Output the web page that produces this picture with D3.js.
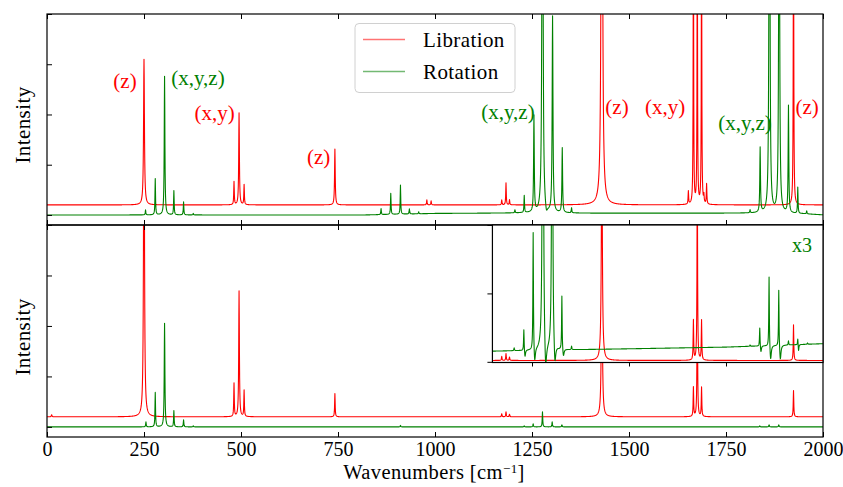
<!DOCTYPE html>
<html><head><meta charset="utf-8">
<script src="https://cdn.jsdelivr.net/npm/d3@7"></script>
<style>
body{margin:0;background:#fff;}
svg text{font-family:"Liberation Serif","Times New Roman",serif;}
</style></head><body>
<svg id="c" width="843" height="487"></svg>
<script>
// ---------------- DATA ----------------
const xTicks = [0, 250, 500, 750, 1000, 1250, 1500, 1750, 2000];
const yTicks = [0, 1, 2, 3, 4];
const insetXTicks = [1250, 1500, 1750];
const insetYTicks = [0, 1, 2];
const seriesNames = ["Libration", "Rotation"];

// Top panel – Libration: line positions (cm^-1), intensities, half widths (cm^-1)
const topLibPos = [250, 482, 495, 508, 742, 979, 990, 1172, 1183, 1192, 1430, 1653, 1666, 1676, 1687, 1693, 1700, 1924];
const topLibAmp = [2.9, 0.46, 1.83, 0.4, 1.11, 0.1, 0.08, 0.1, 0.44, 0.1, 16, 0.26, 6, 6, 6, 0.15, 0.4, 6];
const topLibWid = [1.3, 0.8, 1, 0.8, 1, 0.8, 0.8, 0.8, 0.8, 0.8, 1.5, 0.8, 0.7, 0.7, 0.7, 0.8, 0.8, 0.8];

// Top panel – Rotation
const topRotPos = [254, 279, 303, 327, 352, 377, 861, 886, 911, 934, 958, 1206, 1230, 1255, 1277, 1287, 1303, 1328, 1352, 1812, 1838, 1862, 1887, 1911, 1935, 1958];
const topRotAmp = [0.1, 0.72, 2.76, 0.48, 0.26, 0.03, 0.12, 0.42, 0.58, 0.1, 0.04, 0.06, 0.34, 1.91, 14, -0.15, 3.9, 1.29, 0.1, 0.06, 1.29, 12, 10, 2.13, 0.52, 0.06];
const topRotWid = [0.8, 0.8, 1, 0.8, 0.8, 0.8, 0.8, 0.8, 0.8, 0.8, 0.8, 0.8, 0.8, 1, 1.2, 3, 1.2, 1, 0.8, 0.8, 1, 1.2, 1.2, 1, 0.8, 0.8];
const topRotBaseX = [0, 820, 1000, 1250, 1400, 1800, 1950, 2000];
const topRotBaseY = [0, 0, 0.03, 0.04, 0.035, 0.035, 0.02, 0];

// Bottom panel – Libration (also shown in the inset)
const botLibPos = [12, 250, 482, 495, 508, 742, 1172, 1183, 1192, 1430, 1666, 1676, 1687, 1924];
const botLibAmp = [0.04, 8, 0.66, 2.49, 0.52, 0.46, 0.06, 0.1, 0.05, 3.3, 0.58, 3.0, 0.58, 0.52];
const botLibWid = [1, 1.22, 0.8, 1, 0.8, 0.8, 0.8, 0.8, 0.8, 1.5, 0.8, 0.8, 0.8, 0.8];

// Bottom panel – Rotation
const botRotPos = [255, 279, 303, 327, 352, 377, 911, 1230, 1253, 1277, 1302, 1327, 1837, 1861, 1886];
const botRotAmp = [0.1, 0.68, 2.05, 0.32, 0.14, 0.02, 0.03, 0.02, 0.06, 0.3, 0.1, 0.04, 0.02, 0.04, 0.04];
const botRotWid = [0.8, 0.8, 1, 0.8, 0.8, 0.8, 0.8, 0.8, 0.8, 0.8, 0.8, 0.8, 0.8, 0.8, 0.8];

// Inset – Rotation x3
const insRotPos = [1204, 1229, 1232, 1253, 1257, 1278, 1285, 1302, 1309, 1327, 1331, 1352, 1812, 1837, 1840, 1861, 1865, 1886, 1890, 1911, 1935, 1937, 1960];
const insRotAmp = [0.04, 0.32, -0.11, 1.75, -0.23, 14, -0.47, 10, -0.35, 0.8, -0.12, 0.05, 0.02, 0.28, -0.1, 1.05, -0.23, 0.85, -0.23, 0.06, 0.1, -0.1, 0.02];
const insRotWid = [0.8, 0.8, 1.5, 0.8, 2, 1, 3, 1, 2.5, 0.8, 2, 0.8, 0.8, 0.8, 1.5, 0.8, 2, 0.8, 2, 0.8, 0.8, 1, 0.8];
const insRotBaseX = [1148, 1500, 1750, 2000];
const insRotBaseY = [0.155, 0.19, 0.215, 0.265];

// vertical offsets of the Libration traces
const libOffsetMain = 0.2;
const libOffsetInset = 0.02;

// annotations: text, wavenumber, intensity, series index
const topNotes = [
  ["(z)", 201, 2.52, 0], ["(x,y,z)", 389, 2.59, 1], ["(x,y)", 432, 1.89, 0],
  ["(z)", 700, 1.02, 0], ["(x,y,z)", 1188, 1.91, 1], ["(z)", 1469, 2.01, 0],
  ["(x,y)", 1593, 2.01, 0], ["(x,y,z)", 1799, 1.69, 1], ["(z)", 1959, 2.01, 0]
];
const insetNote = ["x3", 1946, 1.6, 1];

// ---------------- DRAWING ----------------
const colors = ["#ff0000", "#008000"];
const FS = 21;
const svg = d3.select("#c");

const X = d3.scaleLinear().domain([0, 2000]).range([47, 823]);
const yTop = d3.scaleLinear().domain([-0.2, 4]).range([225, 14]);
const yBot = d3.scaleLinear().domain([-0.2, 4]).range([437, 225]);
const xIn = d3.scaleLinear().domain([1148, 2000]).range([X(1148), 823]);
const yIn = d3.scaleLinear().domain([-0.01, 2]).range([362.5, 225]);

function spectrum(pos, amp, wid, offset, x0, x1, bx, by) {
  const base = bx ? d3.scaleLinear().domain(bx).range(by) : () => 0;
  let xs = d3.range(x0, x1 + 0.001, 0.5).concat(pos.filter(p => p >= x0 && p <= x1));
  xs = Array.from(new Set(xs)).sort((a, b) => a - b);
  return xs.map(x => {
    let y = offset + base(x);
    for (let i = 0; i < pos.length; i++) {
      const g = wid[i], d = x - pos[i];
      y += amp[i] * g * g / (d * d + g * g);
    }
    return [x, y];
  });
}

function panel(id, x0, x1, y0, y1) {
  svg.append("clipPath").attr("id", id).append("rect")
    .attr("x", x0).attr("y", y0).attr("width", x1 - x0).attr("height", y1 - y0);
  return svg.append("g").attr("clip-path", `url(#${id})`);
}

function drawLine(g, data, xs, ys, color) {
  g.append("path").datum(data)
    .attr("fill", "none").attr("stroke", color).attr("stroke-width", 1.1)
    .attr("stroke-linejoin", "round")
    .attr("d", d3.line().x(d => xs(d[0])).y(d => ys(d[1])));
}

// top panel
const gTop = panel("clipTop", 47, 823, 14, 225);
drawLine(gTop, spectrum(topLibPos, topLibAmp, topLibWid, libOffsetMain, 0, 2000), X, yTop, colors[0]);
drawLine(gTop, spectrum(topRotPos, topRotAmp, topRotWid, 0, 0, 2000, topRotBaseX, topRotBaseY), X, yTop, colors[1]);

// bottom panel
const gBot = panel("clipBot", 47, 823, 225, 437);
drawLine(gBot, spectrum(botLibPos, botLibAmp, botLibWid, libOffsetMain, 0, 2000), X, yBot, colors[0]);
drawLine(gBot, spectrum(botRotPos, botRotAmp, botRotWid, 0, 0, 2000), X, yBot, colors[1]);

function axes(ys, yPix0, yPix1, withLabels) {
  const bottom = svg.append("g").attr("transform", `translate(0,${yPix1})`)
    .call(d3.axisBottom(X).tickValues(xTicks).tickSizeInner(-5).tickSizeOuter(0).tickPadding(5)
      .tickFormat(withLabels ? d3.format("d") : ""));
  const top = svg.append("g").attr("transform", `translate(0,${yPix0})`)
    .call(d3.axisTop(X).tickValues(xTicks).tickSizeInner(-5).tickSizeOuter(0).tickFormat(""));
  const left = svg.append("g").attr("transform", `translate(47,0)`)
    .call(d3.axisLeft(ys).tickValues(yTicks).tickSizeInner(-5).tickSizeOuter(0).tickFormat(""));
  [bottom, top, left].forEach(a => {
    a.select(".domain").remove();
    a.selectAll("line").attr("stroke", "#000").attr("stroke-width", 1);
    a.selectAll("text").attr("font-family", "Liberation Serif, serif").attr("font-size", 20).attr("fill", "#000");
  });
  svg.append("rect").attr("x", 47).attr("y", yPix0).attr("width", 776).attr("height", yPix1 - yPix0)
    .attr("fill", "none").attr("stroke", "#000").attr("stroke-width", 1.2);
}
axes(yTop, 14, 225, false);
axes(yBot, 225, 437, true);

// inset
svg.append("rect").attr("x", xIn.range()[0]).attr("y", 225).attr("width", 823 - xIn.range()[0]).attr("height", 362.5 - 225)
  .attr("fill", "#fff");
const gIn = panel("clipIn", xIn.range()[0], 823, 225, 362.5);
drawLine(gIn, spectrum(botLibPos, botLibAmp, botLibWid, libOffsetInset, 1148, 2000), xIn, yIn, colors[0]);
drawLine(gIn, spectrum(insRotPos, insRotAmp, insRotWid, 0, 1148, 2000, insRotBaseX, insRotBaseY), xIn, yIn, colors[1]);
{
  const l = svg.append("g").attr("transform", `translate(${xIn.range()[0]},0)`)
    .call(d3.axisLeft(yIn).tickValues(insetYTicks).tickSize(5).tickFormat(""));
  const b = svg.append("g").attr("transform", `translate(0,362.5)`)
    .call(d3.axisBottom(xIn).tickValues(insetXTicks).tickSize(4).tickFormat(""));
  [l, b].forEach(a => { a.select(".domain").remove(); a.selectAll("line").attr("stroke", "#000"); });
  svg.append("rect").attr("x", xIn.range()[0]).attr("y", 225).attr("width", 823 - xIn.range()[0]).attr("height", 362.5 - 225)
    .attr("fill", "none").attr("stroke", "#000").attr("stroke-width", 1.2);
}

// annotations
svg.append("g").selectAll("text").data(topNotes).join("text")
  .attr("x", d => X(d[1])).attr("y", d => yTop(d[2]))
  .attr("text-anchor", "middle").attr("font-size", FS).attr("fill", d => colors[d[3]])
  .text(d => d[0]);
svg.append("text").attr("x", xIn(insetNote[1])).attr("y", yIn(insetNote[2]))
  .attr("text-anchor", "middle").attr("font-size", 20).attr("fill", colors[insetNote[3]]).text(insetNote[0]);

// axis labels
svg.append("text").attr("transform", "translate(30,125) rotate(-90)").attr("text-anchor", "middle")
  .attr("font-size", FS).attr("letter-spacing", 0.4).text("Intensity");
svg.append("text").attr("transform", "translate(30,337) rotate(-90)").attr("text-anchor", "middle")
  .attr("font-size", FS).attr("letter-spacing", 0.4).text("Intensity");
{
  const t = svg.append("text").attr("x", 434).attr("y", 479).attr("text-anchor", "middle")
    .attr("font-size", 20.5).attr("letter-spacing", 0.4);
  t.append("tspan").text("Wavenumbers [cm");
  t.append("tspan").attr("font-size", 13).attr("dy", -6).text("\u22121");
  t.append("tspan").attr("dy", 6).text("]");
}

// legend
{
  const lg = svg.append("g");
  lg.append("rect").attr("x", 355).attr("y", 23.5).attr("width", 160).attr("height", 69).attr("rx", 4)
    .attr("fill", "#fff").attr("fill-opacity", 0.8).attr("stroke", "#d0d0d0").attr("stroke-width", 1);
  seriesNames.forEach((n, i) => {
    const y = 39.5 + i * 32;
    lg.append("line").attr("x1", 363).attr("x2", 405).attr("y1", y).attr("y2", y)
      .attr("stroke", colors[i]).attr("stroke-opacity", 0.55).attr("stroke-width", 1.3);
    lg.append("text").attr("x", 423).attr("y", y + 7.5).attr("font-size", FS).attr("letter-spacing", 0.4).text(n);
  });
}
</script>
</body></html>
